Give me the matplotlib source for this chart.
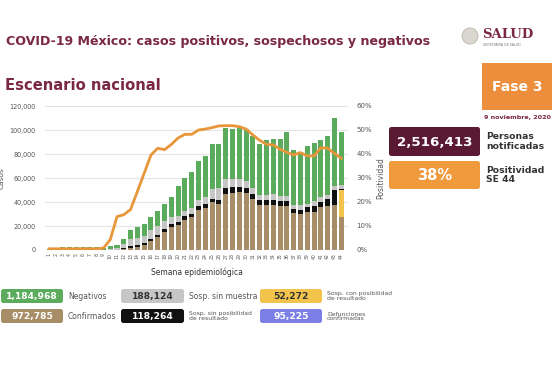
import numpy as np
import matplotlib.pyplot as plt
from matplotlib.patches import FancyBboxPatch, Circle
from matplotlib.ticker import FuncFormatter

#%% Datos (lectura del gráfico)
semanas = np.arange(1, 45)

confirmados = [0, 0, 0, 0, 0, 0, 0, 0, 0, 100, 400, 800, 1900, 2500, 4400,
               7500, 10800, 15200, 18800, 21100, 24700, 27400, 33500, 34900,
               39600, 38500, 46500, 47100, 48200, 47400, 42400, 37100, 37700,
               37700, 36300, 36300, 30700, 29900, 31300, 31900, 35700, 36300,
               37100, 27400]
sosp_con_pos = [0]*43 + [22200]
sosp_sin_pos = [0, 0, 0, 0, 0, 0, 0, 0, 0, 0, 0, 900, 1400, 1400, 1400,
                1700, 1900, 2200, 2800, 2200, 3300, 2800, 2800, 3300, 3300,
                3300, 5000, 5000, 4400, 4200, 4100, 4700, 4200, 4200, 4200,
                4200, 3600, 3600, 4200, 4400, 4700, 6600, 13000, 1400]
sosp_sin_muestra = [0, 0, 0, 0, 0, 0, 0, 0, 0, 1000, 1400, 3300, 5500, 6100,
                    6100, 7200, 7200, 6400, 6100, 5300, 4200, 4700, 5500, 5800,
                    7800, 10200, 7500, 6900, 6400, 5800, 5000, 4200, 4200,
                    4700, 4200, 4200, 3300, 3600, 3000, 4200, 3600, 3000,
                    3300, 3300]
negativos = [800, 1900, 2800, 2800, 2200, 2200, 2200, 2200, 1500, 2000, 2600,
             4100, 7800, 9400, 10000, 11400, 13000, 14400, 16600, 24900,
             27700, 30500, 32400, 34300, 37900, 36000, 42700, 41800, 44300,
             43800, 43800, 42100, 45400, 45900, 48000, 53500, 45700, 43500,
             48500, 48800, 47700, 49300, 56800, 44300]
positividad = [0.5, 0.5, 0.5, 0.5, 0.5, 0.5, 0.5, 0.5, 0.8, 4.3, 13.9, 14.7,
               16.9, 24.4, 32.0, 39.6, 42.4, 41.8, 44.0, 46.7, 48.2, 48.2,
               50.0, 50.4, 51.0, 51.7, 51.8, 51.8, 51.4, 50.4, 47.9, 45.7,
               44.0, 43.8, 42.0, 40.7, 39.6, 40.6, 39.2, 39.2, 42.6, 42.4,
               40.3, 38.2]

resumen_valores = ['1,184,968', '972,785', '188,124', '118,264', '52,272', '95,225']
resumen_textos = ['Negativos', 'Confirmados', 'Sosp. sin muestra',
                  'Sosp. sin posibilidad\nde resultado',
                  'Sosp. con posibilidad\nde resultado',
                  'Defunciones\nconfirmadas']

#%% Colores
GUINDA = '#7a2846'
GUINDA_OSC = '#5a1a33'
NARANJA = '#ec8e3b'
C_NEG = '#5aab5c'
C_CONF = '#a88e68'
C_GRIS = '#c6c6c6'
C_NEGRO = '#111111'
C_AMAR = '#f2c44e'
C_MORADO = '#7c7fe6'
C_LINEA = '#e8963a'
TXT = '#555555'

W, H = 552, 368
fig = plt.figure(figsize=(W/100, H/100), dpi=100)
fig.patch.set_facecolor('white')

#%% Gráfica principal
x0, x1, y0, y1 = 45, 348, 106, 250
ax = fig.add_axes([x0/W, 1 - y1/H, (x1 - x0)/W, (y1 - y0)/H])
ax.set_facecolor('none')
capas = [(confirmados, C_CONF), (sosp_con_pos, C_AMAR), (sosp_sin_pos, C_NEGRO),
         (sosp_sin_muestra, C_GRIS), (negativos, C_NEG)]
base = np.zeros(len(semanas))
for valores, color in capas:
    v = np.array(valores, dtype=float)
    ax.bar(semanas, v, bottom=base, width=0.74, color=color, linewidth=0, zorder=2)
    base += v

ax.set_xlim(0.4, 45.0)
ax.set_ylim(0, 120000)
ax.set_yticks(np.arange(0, 120001, 20000))
ax.yaxis.set_major_formatter(FuncFormatter(lambda v, p: f'{int(v):,}'))
ax.grid(axis='y', color='#e4e4e4', linewidth=0.8, zorder=0)
ax.set_axisbelow(True)
for s in ax.spines.values():
    s.set_visible(False)
ax.tick_params(axis='y', length=0, labelsize=4.7, labelcolor=TXT, pad=7)
ax.set_xticks(semanas)
ax.set_xticklabels([str(s) for s in semanas], rotation=90, fontsize=3.3, color=TXT)
ax.tick_params(axis='x', length=0, pad=2)
ax.set_ylabel('Casos', fontsize=5.3, color=TXT, labelpad=3)
ax.set_xlabel('Semana epidemiológica', fontsize=5.5, color='#333333', labelpad=6)

ax2 = ax.twinx()
ax2.plot(semanas, positividad, color=C_LINEA, linewidth=2.0, zorder=3)
ax2.set_ylim(0, 60)
ax2.set_yticks(np.arange(0, 61, 10))
ax2.set_yticklabels([f'{t}%' for t in range(0, 61, 10)])
for s in ax2.spines.values():
    s.set_visible(False)
ax2.tick_params(axis='y', length=0, labelsize=5.0, labelcolor=TXT, pad=6)
ax2.set_ylabel('Positividad', fontsize=5.5, color=TXT, labelpad=3)

#%% Capa de anotaciones (coordenadas en píxeles)
ov = fig.add_axes([0, 0, 1, 1])
ov.set_xlim(0, W)
ov.set_ylim(H, 0)
ov.axis('off')
ov.patch.set_alpha(0)
ov.set_zorder(-1)


def caja(x, y, w, h, color, texto, tcolor='white', fs=6.5):
    ov.add_patch(FancyBboxPatch((x, y), w, h, boxstyle='round,pad=0,rounding_size=2.5',
                                facecolor=color, edgecolor='none'))
    ov.text(x + w/2, y + h/2 + 0.5, texto, ha='center', va='center', color=tcolor,
            fontsize=fs, fontweight='bold')


ov.text(6, 42, 'COVID-19 México: casos positivos, sospechosos y negativos',
        fontsize=9.1, fontweight='bold', color=GUINDA, va='center', ha='left')
ov.text(5, 86, 'Escenario nacional', fontsize=10.6, fontweight='bold',
        color=GUINDA, va='center', ha='left')

# logo
ov.add_patch(Circle((470, 36), 8, facecolor='#d9d6cf', edgecolor='#b9b4a8', linewidth=0.6))
ov.text(482, 34, 'SALUD', fontsize=9.5, fontweight='bold', color=GUINDA,
        family='DejaVu Serif', va='center', ha='left')
ov.text(483, 45, 'SECRETARÍA DE SALUD', fontsize=2.3, color='#777777', va='center', ha='left')

# bloque derecho
ov.add_patch(plt.Rectangle((482, 63), 70, 47, facecolor=NARANJA, edgecolor='none'))
ov.text(517, 87, 'Fase 3', fontsize=10, fontweight='bold', color='white',
        ha='center', va='center')
ov.text(517, 117, '9 noviembre, 2020', fontsize=4.6, fontweight='bold',
        color=GUINDA, ha='center', va='center')
caja(389, 127, 91, 29, GUINDA_OSC, '2,516,413', fs=9.6)
ov.text(486, 141.5, 'Personas\nnotificadas', fontsize=6.7, fontweight='bold',
        color='#333333', ha='left', va='center', linespacing=1.05)
caja(389, 161, 91, 28, '#f09a3e', '38%', fs=10.5)
ov.text(486, 175, 'Positividad\nSE 44', fontsize=6.7, fontweight='bold',
        color='#333333', ha='left', va='center', linespacing=1.05)

# resumen inferior
cajas = [(1, 289, 62, C_NEG, 'white'), (1, 309, 62, C_CONF, 'white'),
         (121, 289, 63, C_GRIS, '#333333'), (121, 309, 63, C_NEGRO, 'white'),
         (260, 289, 62, C_AMAR, '#333333'), (260, 309, 62, C_MORADO, 'white')]
for (x, y, w, c, tc), val, txt in zip(cajas, resumen_valores, resumen_textos):
    caja(x, y, w, 14, c, val, tcolor=tc, fs=6.6)
    fs = 5.5 if '\n' not in txt else 4.4
    ov.text(x + w + 5, y + 7.5, txt, fontsize=fs, color=TXT, ha='left',
            va='center', linespacing=1.0)

fig.savefig('out.png', dpi=100)
